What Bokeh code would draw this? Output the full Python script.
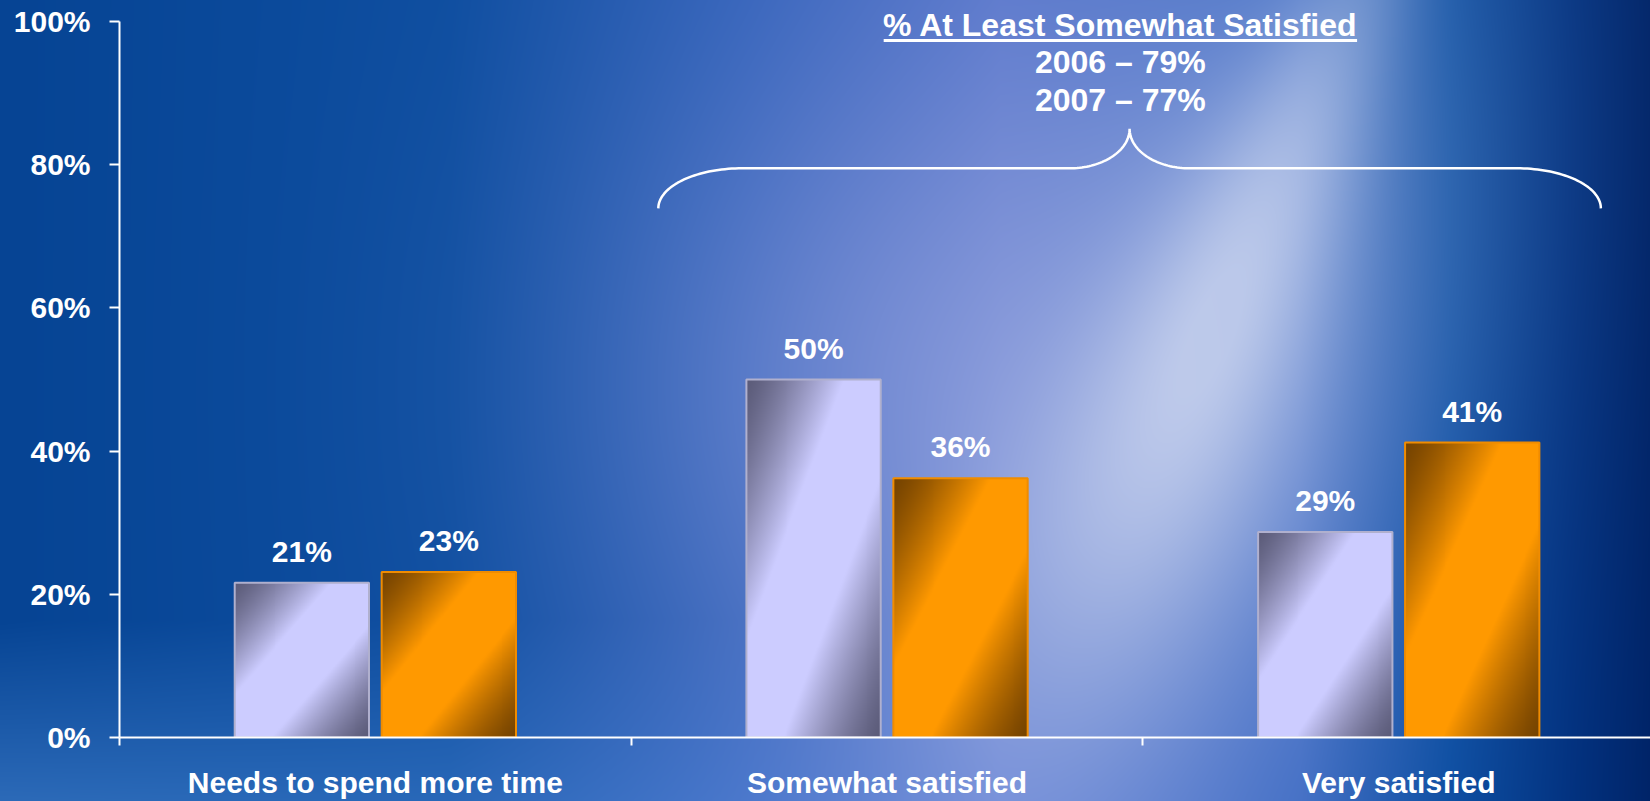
import numpy as np, zlib, struct, base64
from bokeh.plotting import figure
from bokeh.models import Range1d, FixedTicker, ColumnDataSource, LabelSet
from bokeh.core.properties import value
from bokeh.embed import file_html
from bokeh.resources import INLINE

# ---------------- data ----------------
categories = ["Needs to spend more time", "Somewhat satisfied", "Very satisfied"]
series_names = ["2006", "2007"]
values_2006 = [21.6, 50.0, 28.7]
values_2007 = [23.1, 36.2, 41.2]
labels_2006 = ["21%", "50%", "29%"]
labels_2007 = ["23%", "36%", "41%"]
y_ticks = [0, 20, 40, 60, 80, 100]
y_tick_labels = ["0%", "20%", "40%", "60%", "80%", "100%"]
summary_lines = ["% At Least Somewhat Satisfied", "2006 \u2013 79%", "2007 \u2013 77%"]

FONT = "Liberation Sans"
W, H = 1650, 801
FRAME_H = 737
FRAME_W = W - 119
X_END = 2.992
Y_END = 100 * FRAME_H / 716.0
BAR_W, OFFSET = 0.2625, 0.1436
PX_X = FRAME_W / X_END
PX_Y = FRAME_H / Y_END

# ---------------- background (decoration) ----------------
def png_uri(rgb):
    h, w, _ = rgb.shape
    raw = b"".join(b"\x00" + rgb[i].tobytes() for i in range(h))
    def chunk(tag, data):
        return struct.pack(">I", len(data)) + tag + data + struct.pack(">I", zlib.crc32(tag + data) & 0xffffffff)
    png = (b"\x89PNG\r\n\x1a\n" + chunk(b"IHDR", struct.pack(">IIBBBBB", w, h, 8, 2, 0, 0, 0))
           + chunk(b"IDAT", zlib.compress(raw, 9)) + chunk(b"IEND", b""))
    return "data:image/png;base64," + base64.b64encode(png).decode()

def make_background():
    yy, xx = np.mgrid[0:H, 0:W].astype(float)
    stops_x = [0, 450, 750, 1000, 1300, 1450, 1570, 1650]
    stops_c = np.array([(6, 68, 148), (14, 78, 160), (50, 98, 186), (85, 116, 202),
                        (60, 106, 194), (12, 78, 162), (2, 50, 128), (0, 36, 104)], float)
    base = np.stack([np.interp(xx, stops_x, stops_c[:, k]) for k in range(3)], -1)
    bot = np.clip((yy - 620) / 180, 0, 1)[..., None]
    base = base + bot * np.array([38, 38, 36]) * np.clip((1350 - xx) / 1350, 0, 1)[..., None]
    # lavender glow
    g = 0.6 * np.exp(-(((xx - 960) / 340) ** 2 + ((yy - 380) / 330) ** 2))
    base = base * (1 - g[..., None]) + np.array([145, 158, 222]) * g[..., None]
    # light beam
    p0 = np.array([1355.0, 0.0]); p1 = np.array([1010.0, 801.0])
    d = (p1 - p0) / np.linalg.norm(p1 - p0)
    rx, ry = xx - p0[0], yy - p0[1]
    along = rx * d[0] + ry * d[1]
    perp = rx * d[1] - ry * d[0]
    fade = np.exp(-((along - 360) / 430) ** 2)
    b1 = 0.52 * np.exp(-(perp / (60 + 0.12 * along)) ** 2) * fade
    b2 = 0.3 * np.exp(-(perp / 230) ** 2) * fade
    b = np.clip(b1 + b2, 0, 0.8)[..., None]
    base = base * (1 - b) + np.array([212, 220, 242]) * b
    return np.clip(base, 0, 255).astype(np.uint8)

# ---------------- bar gradients ----------------
def gradient(dark, light, rows=360, cols=136):
    u = np.linspace(0, 1, cols)[None, :]
    v = np.linspace(1, 0, rows)[:, None]          # row 0 = bottom of bar
    t = (u + v) / 2
    w = np.clip((0.5 - np.abs(t - 0.5)) / 0.36, 0, 1) ** 1.35
    dark = np.array(dark, float); light = np.array(light, float)
    col = dark[None, None, :] + (light - dark)[None, None, :] * w[..., None]
    img = np.empty((rows, cols), dtype=np.uint32)
    view = img.view(dtype=np.uint8).reshape((rows, cols, 4))
    view[..., :3] = np.clip(col, 0, 255).astype(np.uint8)
    view[..., 3] = 255
    return img

p = figure(width=W, height=H, output_backend="svg", toolbar_location=None,
           x_range=Range1d(0, X_END), y_range=Range1d(0, Y_END),
           min_border_left=119, min_border_right=0, min_border_top=0,
           min_border_bottom=H - FRAME_H)
p.background_fill_alpha = 0
p.border_fill_alpha = 0
p.outline_line_color = None
p.xgrid.visible = False
p.ygrid.visible = False
p.styles = {"background-image": f"url({png_uri(make_background())})",
            "background-size": f"{W}px {H}px", "background-repeat": "no-repeat"}

series = [
    (values_2006, labels_2006, -OFFSET, (92, 92, 122), (204, 204, 255), (176, 176, 206), "#b8b8f0"),
    (values_2007, labels_2007, +OFFSET, (118, 68, 0), (255, 153, 0), (240, 140, 0), "#e08800"),
]
for vals, labs, off, dark, light, outline, mid in series:
    xc = [i + 0.5 + off for i in range(len(categories))]
    img = gradient(dark, light)
    src = ColumnDataSource(dict(x=xc, left=[x - BAR_W / 2 for x in xc], top=vals,
                                img=[img] * len(vals), lab=labs))
    p.vbar(x="x", top="top", width=BAR_W, bottom=0, fill_color=mid, line_color=None, source=src)
    p.image_rgba(image="img", x="left", y=0, dw=BAR_W, dh="top", source=src)
    p.vbar(x="x", top="top", width=BAR_W, bottom=0, fill_alpha=0,
           line_color="rgb(%d,%d,%d)" % outline, line_width=2, source=src)
    p.add_layout(LabelSet(x="x", y="top", text="lab", source=src, y_offset=21,
                          text_align="center", text_baseline="alphabetic",
                          text_color="white", text_font=value(FONT), text_font_style="bold",
                          text_font_size="30px"))

# ---------------- brace & summary ----------------
x0, x1 = 1.053, 2.895
yE, yB, yP = 73.9, 79.5, 85.0
xm = (x0 + x1) / 2
rx, cx = 84 / PX_X, 60 / PX_X
k = 0.5523

def cubic(a, b, c, d, n=40):
    t = np.linspace(0, 1, n)[:, None]
    a, b, c, d = map(np.array, (a, b, c, d))
    return (1 - t) ** 3 * a + 3 * (1 - t) ** 2 * t * b + 3 * (1 - t) * t ** 2 * c + t ** 3 * d

left_half = np.vstack([
    cubic((x0, yE), (x0, yE + k * (yB - yE)), (x0 + rx * (1 - k), yB), (x0 + rx, yB)),
    cubic((xm - cx, yB), (xm - cx + k * cx, yB), (xm, yP - k * (yP - yB)), (xm, yP)),
])
right_half = left_half[::-1].copy()
right_half[:, 0] = 2 * xm - right_half[:, 0]
brace = np.vstack([left_half, right_half])
p.line(brace[:, 0], brace[:, 1], line_color="white", line_width=2.5)

title_x = xm - 0.018
summary_src = ColumnDataSource(dict(
    x=[title_x] * 3,
    y=[(FRAME_H - b) / PX_Y for b in (35, 72, 110)],
    t=summary_lines))
p.add_layout(LabelSet(x="x", y="y", text="t", source=summary_src, text_align="center",
                      text_baseline="alphabetic", text_color="white", text_font=value(FONT),
                      text_font_style="bold", text_font_size="32px"))
half_w = 236.7 / PX_X
ul_y = (FRAME_H - 40) / PX_Y
p.segment(x0=[title_x - half_w], y0=[ul_y], x1=[title_x + half_w], y1=[ul_y],
          line_color="white", line_width=3)

# ---------------- axes ----------------
ya = p.yaxis[0]
ya.ticker = FixedTicker(ticks=y_ticks)
ya.major_label_overrides = {t: l for t, l in zip(y_ticks, y_tick_labels)}
ya.bounds = (0, 100)
ya.minor_tick_line_color = None
ya.major_tick_in = 0
ya.major_tick_out = 10

xa = p.xaxis[0]
xa.ticker = FixedTicker(ticks=[i + 0.5 for i in range(len(categories))],
                        minor_ticks=list(range(len(categories) + 1)))
xa.major_label_overrides = {i + 0.5: c for i, c in enumerate(categories)}
xa.major_tick_in = 0
xa.major_tick_out = 0
xa.minor_tick_in = 0
xa.minor_tick_out = 8

for ax, standoff in ((ya, 19), (xa, 20)):
    ax.axis_line_color = "white"
    ax.axis_line_width = 2
    ax.major_tick_line_color = "white"
    ax.major_tick_line_width = 2
    ax.minor_tick_line_width = 2
    ax.major_label_text_color = "white"
    ax.major_label_text_font = FONT
    ax.major_label_text_font_style = "bold"
    ax.major_label_text_font_size = "30px"
    ax.major_label_standoff = standoff
xa.minor_tick_line_color = "white"

open("out.html", "w").write(file_html(p, INLINE))
